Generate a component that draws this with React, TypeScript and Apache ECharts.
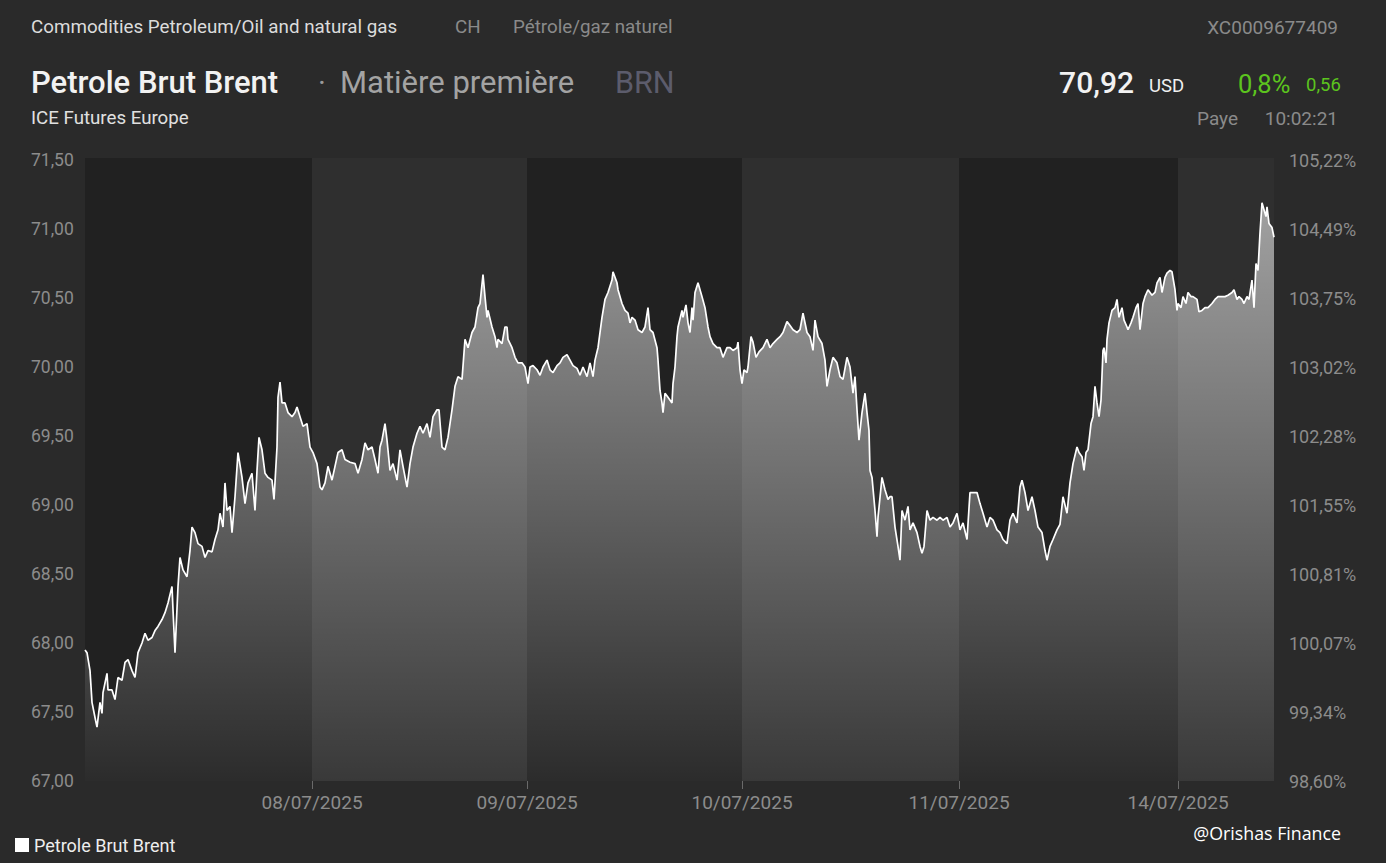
import React, { useEffect, useRef } from "react";
import * as echarts from "echarts";

// Time is measured in chart steps (1 trading day ≈ 216.5 steps)
const dayStarts = [227, 442, 657, 874, 1093];
const dayLabels = ["08/07/2025", "09/07/2025", "10/07/2025", "11/07/2025", "14/07/2025"];
const sessionEnd = 1189;
const referencePrice = 67.95;
const yMin = 67;
const yMax = 71.5;
const yStep = 0.5;
const seriesName = "Petrole Brut Brent";

const day1Quotes: [number, number][] = [
  [0, 67.95], [2, 67.93], [5, 67.8], [7, 67.57], [10, 67.46], [12, 67.39], [15, 67.57], [17, 67.49], [18, 67.64],
  [22, 67.78], [23, 67.66], [27, 67.66], [30, 67.59], [33, 67.75], [37, 67.73], [40, 67.86], [43, 67.88], [47, 67.8],
  [50, 67.75], [53, 67.93], [57, 68.0], [60, 68.07], [63, 68.02], [67, 68.04], [70, 68.09], [73, 68.12], [77, 68.17],
  [80, 68.22], [83, 68.29], [87, 68.41], [88, 68.24], [90, 67.93], [93, 68.41], [95, 68.62], [98, 68.53], [102, 68.48],
  [105, 68.67], [107, 68.84], [110, 68.8], [113, 68.72], [117, 68.7], [120, 68.62], [123, 68.67], [127, 68.66],
  [130, 68.75], [133, 68.82], [135, 68.94], [138, 68.84], [140, 69.16], [142, 68.96], [145, 68.99], [147, 68.8],
  [150, 69.06], [153, 69.38], [157, 69.2], [160, 69.01], [163, 69.16], [167, 69.23], [170, 68.96], [172, 69.25],
  [174, 69.49], [177, 69.4], [180, 69.23], [183, 69.2], [187, 69.18], [189, 69.04], [192, 69.42], [193, 69.78],
  [195, 69.89], [197, 69.74], [200, 69.74], [203, 69.67], [207, 69.64], [210, 69.67], [212, 69.71], [215, 69.64],
  [218, 69.57], [222, 69.59], [225, 69.42],
];

const day2Quotes: [number, number][] = [
  [228, 69.38], [232, 69.3], [235, 69.13], [237, 69.11], [240, 69.16], [243, 69.28], [247, 69.18], [250, 69.28],
  [253, 69.38], [257, 69.4], [260, 69.33], [265, 69.31], [270, 69.3], [273, 69.23], [277, 69.33], [280, 69.45],
  [283, 69.4], [287, 69.42], [290, 69.33], [293, 69.23], [295, 69.42], [297, 69.47], [300, 69.59], [302, 69.47],
  [305, 69.25], [308, 69.3], [312, 69.18], [315, 69.4], [318, 69.28], [322, 69.13], [325, 69.3], [328, 69.42],
  [332, 69.52], [335, 69.57], [338, 69.52], [342, 69.59], [345, 69.49], [348, 69.64], [352, 69.69], [354, 69.69],
  [357, 69.42], [360, 69.4], [363, 69.49], [367, 69.69], [370, 69.86], [373, 69.93], [377, 69.91], [380, 70.2],
  [383, 70.14], [387, 70.25], [390, 70.29], [393, 70.43], [395, 70.46], [398, 70.67], [400, 70.51], [402, 70.36],
  [403, 70.41], [407, 70.29], [410, 70.22], [412, 70.14], [413, 70.2], [417, 70.17], [420, 70.29], [422, 70.29],
  [423, 70.2], [427, 70.14], [430, 70.07], [433, 70.03], [437, 70.03], [440, 70.0],
];

const day3Quotes: [number, number][] = [
  [443, 69.88], [445, 70.0], [448, 70.01], [452, 69.98], [455, 69.94], [458, 70.0], [462, 70.05], [465, 69.98],
  [468, 69.96], [472, 70.01], [475, 70.03], [478, 70.07], [482, 70.09], [485, 70.05], [488, 70.01], [492, 69.99],
  [495, 69.94], [498, 70.0], [502, 69.93], [505, 70.03], [508, 69.93], [510, 70.05], [513, 70.14], [517, 70.36],
  [520, 70.49], [523, 70.54], [527, 70.63], [528, 70.69], [530, 70.65], [532, 70.61], [533, 70.56], [537, 70.46],
  [540, 70.41], [543, 70.39], [545, 70.32], [547, 70.36], [550, 70.34], [553, 70.27], [557, 70.25], [560, 70.29],
  [563, 70.43], [565, 70.27], [568, 70.25], [572, 70.14], [573, 70.05], [575, 69.83], [577, 69.74], [578, 69.67],
  [580, 69.81], [583, 69.78], [587, 69.74], [588, 69.88], [590, 70.0], [592, 70.22], [593, 70.29], [597, 70.41],
  [598, 70.36], [601, 70.45], [603, 70.32], [605, 70.25], [607, 70.43], [608, 70.34], [610, 70.54], [613, 70.61],
  [617, 70.51], [620, 70.43], [623, 70.29], [625, 70.22], [628, 70.17], [632, 70.14], [635, 70.14], [638, 70.07],
  [642, 70.14], [645, 70.14], [648, 70.12], [652, 70.14], [653, 70.18], [655, 69.98],
];

const day4Quotes: [number, number][] = [
  [657, 69.88], [659, 69.98], [662, 69.96], [663, 70.0], [666, 70.22], [668, 70.18], [671, 70.07], [674, 70.11],
  [678, 70.14], [682, 70.2], [685, 70.14], [688, 70.17], [692, 70.2], [695, 70.22], [698, 70.25], [702, 70.33],
  [705, 70.3], [708, 70.27], [712, 70.25], [715, 70.27], [718, 70.39], [722, 70.25], [725, 70.22], [728, 70.12],
  [730, 70.34], [733, 70.22], [737, 70.17], [740, 70.05], [742, 69.86], [745, 69.98], [748, 70.07], [752, 70.03],
  [755, 69.93], [758, 69.91], [762, 70.07], [765, 70.0], [768, 69.81], [770, 69.93], [772, 69.69], [774, 69.47],
  [777, 69.67], [780, 69.81], [782, 69.67], [784, 69.54], [785, 69.25], [787, 69.2], [790, 68.96], [792, 68.77],
  [793, 68.91], [797, 69.2], [800, 69.11], [803, 69.04], [805, 69.06], [807, 69.06], [810, 68.84], [813, 68.7],
  [815, 68.6], [817, 68.96], [820, 68.89], [823, 68.99], [825, 68.82], [828, 68.87], [832, 68.8], [835, 68.7],
  [837, 68.65], [839, 68.7], [842, 68.96], [845, 68.89], [848, 68.91], [852, 68.89], [855, 68.91], [858, 68.89],
  [862, 68.91], [865, 68.84], [868, 68.87], [872, 68.94],
];

const day5Quotes: [number, number][] = [
  [875, 68.82], [878, 68.87], [882, 68.75], [885, 69.09], [888, 69.09], [892, 69.09], [895, 69.01], [898, 68.94],
  [902, 68.84], [905, 68.91], [908, 68.89], [912, 68.82], [915, 68.8], [918, 68.75], [922, 68.72], [925, 68.89],
  [928, 68.94], [932, 68.87], [935, 69.13], [937, 69.18], [940, 69.09], [943, 68.96], [947, 69.06], [950, 68.96],
  [953, 68.84], [957, 68.8], [960, 68.67], [962, 68.6], [965, 68.7], [968, 68.75], [972, 68.82], [975, 68.86],
  [978, 69.06], [982, 68.94], [985, 69.16], [988, 69.3], [992, 69.42], [994, 69.38], [997, 69.35], [999, 69.25],
  [1001, 69.38], [1003, 69.4], [1006, 69.59], [1008, 69.64], [1010, 69.86], [1012, 69.74], [1014, 69.64],
  [1016, 69.76], [1018, 70.12], [1019, 70.14], [1021, 70.03], [1022, 70.2], [1024, 70.32], [1027, 70.41],
  [1030, 70.43], [1032, 70.49], [1034, 70.36], [1037, 70.43], [1039, 70.34], [1042, 70.29], [1043, 70.27],
  [1046, 70.32], [1048, 70.36], [1051, 70.43], [1053, 70.46], [1055, 70.27], [1058, 70.46], [1060, 70.51],
  [1063, 70.56], [1067, 70.52], [1070, 70.54], [1072, 70.61], [1075, 70.65], [1077, 70.54], [1080, 70.65],
  [1082, 70.68], [1085, 70.7], [1087, 70.69], [1090, 70.56], [1092, 70.41],
];

const day6Quotes: [number, number][] = [
  [1093, 70.46], [1096, 70.43], [1098, 70.51], [1101, 70.46], [1103, 70.54], [1106, 70.51], [1108, 70.51],
  [1112, 70.49], [1114, 70.4], [1117, 70.41], [1120, 70.43], [1123, 70.43], [1127, 70.46], [1130, 70.49],
  [1133, 70.51], [1137, 70.51], [1140, 70.51], [1143, 70.52], [1147, 70.54], [1149, 70.56], [1152, 70.49],
  [1154, 70.51], [1157, 70.49], [1159, 70.46], [1162, 70.51], [1164, 70.49], [1167, 70.63], [1169, 70.43],
  [1171, 70.75], [1173, 70.7], [1175, 70.97], [1177, 71.19], [1179, 71.14], [1181, 71.09], [1182, 71.16],
  [1184, 71.04], [1187, 71.01], [1189, 70.94],
];

const bandColors = ["#212121", "#2f2f2f"];
const fmt = (v: number) => v.toFixed(2).replace(".", ",");

export default function App() {
  const ref = useRef<HTMLDivElement>(null);

  useEffect(() => {
    const chart = echarts.init(ref.current!, null, { renderer: "svg" });
    const quotes = [...day1Quotes, ...day2Quotes, ...day3Quotes, ...day4Quotes, ...day5Quotes, ...day6Quotes];
    const bounds = [0, ...dayStarts, sessionEnd];
    const bands = bounds.slice(0, -1).map((s, i) => [s, bounds[i + 1], yMin]);

    const txt = (text: string, x: number, y: number, font: string, fill: string, align = "left") => ({
      type: "text",
      x,
      y,
      silent: true,
      style: { text, font, fill, align, verticalAlign: "middle" },
    });
    const R = "Roboto";

    chart.setOption({
      animation: false,
      backgroundColor: "#2a2a2a",
      textStyle: { fontFamily: R },
      grid: { left: 85, right: 112, top: 160, bottom: 82 },
      legend: {
        data: [seriesName],
        left: 15,
        top: 836,
        padding: 0,
        icon: "rect",
        itemWidth: 14,
        itemHeight: 14,
        itemGap: 6,
        textStyle: { color: "#eeeeee", fontSize: 18, fontFamily: R },
      },
      xAxis: {
        type: "value",
        min: 0,
        max: sessionEnd,
        axisLine: { show: false },
        splitLine: { show: false },
        axisTick: {
          show: true,
          customValues: dayStarts,
          length: 8,
          lineStyle: { color: "#6a6a6a", width: 1 },
        },
        axisLabel: {
          customValues: dayStarts,
          color: "#8c8c8c",
          fontSize: 19,
          margin: 12,
          formatter: (v: number) => {
            const i = dayStarts.indexOf(Math.round(v));
            return i >= 0 ? dayLabels[i] : "";
          },
        },
      },
      yAxis: [
        {
          type: "value",
          min: yMin,
          max: yMax,
          interval: yStep,
          position: "left",
          axisLine: { show: false },
          axisTick: { show: false },
          splitLine: { show: false },
          axisLabel: { color: "#8c8c8c", fontSize: 17.5, align: "left", margin: 54, formatter: fmt },
        },
        {
          type: "value",
          min: yMin,
          max: yMax,
          interval: yStep,
          position: "right",
          axisLine: { show: false },
          axisTick: { show: false },
          splitLine: { show: false },
          axisLabel: {
            color: "#8c8c8c",
            fontSize: 18,
            margin: 15,
            formatter: (v: number) => fmt((v / referencePrice) * 100) + "%",
          },
        },
      ],
      series: [
        {
          type: "custom",
          name: "bands",
          z: 1,
          silent: true,
          encode: { x: [0, 1], y: 2 },
          data: bands,
          renderItem: (params: any, api: any) => {
            const a = api.coord([api.value(0), yMax]);
            const b = api.coord([api.value(1), yMin]);
            return {
              type: "rect",
              shape: { x: a[0], y: a[1] - 2, width: b[0] - a[0], height: b[1] - a[1] + 2 },
              style: { fill: bandColors[params.dataIndex % 2] },
            };
          },
        },
        {
          type: "line",
          name: seriesName,
          z: 3,
          data: quotes,
          showSymbol: false,
          symbol: "none",
          color: "#ffffff",
          itemStyle: { color: "#ffffff" },
          lineStyle: { color: "#ffffff", width: 1.7 },
          areaStyle: {
            color: new echarts.graphic.LinearGradient(0, 0, 0, 1, [
              { offset: 0, color: "rgba(255,255,255,0.78)" },
              { offset: 1, color: "rgba(255,255,255,0.07)" },
            ]),
          },
        },
      ],
      graphic: [
        txt("Commodities Petroleum/Oil and natural gas", 31, 27, `18.8px ${R}`, "#dcdcdc"),
        txt("CH", 455, 27, `18.8px ${R}`, "#8a8a8a"),
        txt("Pétrole/gaz naturel", 513, 27, `18.8px ${R}`, "#8a8a8a"),
        txt("XC0009677409", 1338, 27, `19px ${R}`, "#8a8a8a", "right"),
        txt("Petrole Brut Brent", 31, 82, `500 31px ${R}`, "#f2f2f2"),
        txt("·", 318, 82, `30px ${R}`, "#9a9a9a"),
        txt("Matière première", 340, 82, `31px ${R}`, "#a3a3a3"),
        txt("BRN", 615, 82, `30.5px ${R}`, "#5c5c6c"),
        txt("70,92", 1134, 82, `500 30px ${R}`, "#f2f2f2", "right"),
        txt("USD", 1149, 86, `18.5px ${R}`, "#f0f0f0"),
        txt("0,8%", 1238, 84, `25.5px ${R}`, "#5cc41e"),
        txt("0,56", 1306, 85, `18.5px ${R}`, "#5cc41e"),
        txt("ICE Futures Europe", 31, 118, `18.7px ${R}`, "#e0e0e0"),
        txt("Paye", 1197, 118, `19px ${R}`, "#8a8a8a"),
        txt("10:02:21", 1338, 118, `19px ${R}`, "#8a8a8a", "right"),
        txt("@Orishas Finance", 1341, 833, `17.8px "Open Sans"`, "#ffffff", "right"),
      ],
    });

    return () => chart.dispose();
  }, []);

  return (
    <div
      ref={ref}
      style={{ position: "absolute", left: 0, top: 0, width: 1386, height: 863, background: "#2a2a2a" }}
    />
  );
}
